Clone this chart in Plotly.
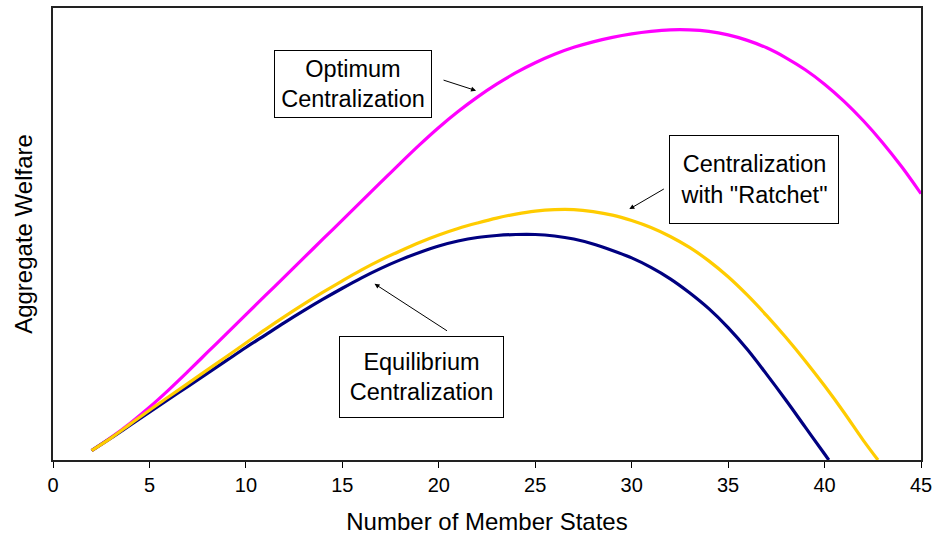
import plotly.graph_objects as go

# Aggregate welfare (arbitrary units) by number of member states
x_opt = list(range(2, 46))
w_opt = [9.5, 22.5, 37, 53, 70.5, 89, 108, 127, 146, 165, 184, 203, 222, 241, 260, 279, 298,
         316.5, 334, 350, 364.5, 377.5, 389, 399, 407.5, 414.5, 420, 424.5, 428, 430.5, 432, 432,
         430.5, 427, 421.5, 414, 404, 392, 377.5, 360.5, 341, 319, 294.5, 267.5]

x_rat = list(range(2, 43)) + [42.77]
w_rat = [9.5, 22, 36, 50, 63.5, 77, 90.5, 104, 117.5, 131, 144, 156.5, 168.5, 180, 191, 201, 210,
         218.5, 226, 232.5, 238, 243, 247, 250, 251.5, 251.5, 249.5, 246, 240.5, 233.5, 224.5,
         213.5, 200, 184, 165.5, 145, 123, 99.5, 74.5, 48, 20, 0]

x_eq = list(range(2, 41)) + [40.22]
w_eq = [9.5, 22, 35, 48, 61, 74, 87, 100, 113, 125.5, 138, 150, 161.5, 172.5, 183, 192.5, 201,
        208.5, 215, 220, 223.5, 225.5, 226.5, 226.5, 225, 222, 217, 210.5, 203, 193.5, 182, 168,
        152, 133, 111, 86, 60, 33, 6, 0]

x_ticks = [0, 5, 10, 15, 20, 25, 30, 35, 40, 45]

FONT = "Liberation Sans, Arial, sans-serif"

fig = go.Figure()
fig.add_trace(go.Scatter(x=x_opt, y=w_opt, mode="lines", name="Optimum Centralization",
                         line=dict(color="#FF00FF", width=3.2, shape="spline", smoothing=1)))
fig.add_trace(go.Scatter(x=x_eq, y=w_eq, mode="lines", name="Equilibrium Centralization",
                         line=dict(color="#000080", width=3.2, shape="spline", smoothing=1)))
fig.add_trace(go.Scatter(x=x_rat, y=w_rat, mode="lines", name='Centralization with "Ratchet"',
                         line=dict(color="#FFCC00", width=3.2, shape="spline", smoothing=1)))

W, H = 938, 539
L, R, T, B = 53, 13, 6, 79
pw, ph = W - L - R, H - T - B


def px(xp):
    return (xp - L) / pw


def py(yp):
    return (H - B - yp) / ph


boxes = [
    ("Optimum<br>Centralization", 354, 82, 156, 66),
    ("Centralization<br>with \"Ratchet\"", 757, 178, 168, 87),
    ("Equilibrium<br>Centralization", 423.5, 377, 163, 80),
]
annotations = []
for text, cx, cy, bw, bh in boxes:
    annotations.append(dict(
        text=text, xref="paper", yref="paper", x=px(cx), y=py(cy),
        xanchor="center", yanchor="middle", showarrow=False,
        width=bw, height=bh, borderpad=0, bordercolor="#000000", borderwidth=1,
        bgcolor="#FFFFFF", font=dict(family=FONT, size=23.5, color="#000000"),
    ))

arrows = [
    ((444, 78), (478, 89)),
    ((668, 187), (632, 208)),
    ((450, 331), (376, 283)),
]
for (tx, ty), (hx, hy) in arrows:
    annotations.append(dict(
        text="", xref="paper", yref="paper", x=px(hx), y=py(hy),
        ax=tx - hx, ay=ty - hy, showarrow=True,
        arrowhead=2, arrowsize=1, arrowwidth=1, arrowcolor="#000000",
    ))

fig.update_layout(
    width=W, height=H,
    margin=dict(l=L, r=R, t=T, b=B),
    paper_bgcolor="white", plot_bgcolor="white",
    showlegend=False,
    font=dict(family=FONT, color="#000000"),
    annotations=annotations,
    xaxis=dict(
        range=[0, 45], tickvals=x_ticks, ticktext=[str(v) for v in x_ticks],
        ticks="outside", ticklen=6, tickwidth=1, tickcolor="#000000",
        showline=True, linecolor="#222222", linewidth=2, mirror=True,
        showgrid=False, zeroline=False,
        tickfont=dict(family=FONT, size=20, color="#000000"),
        title=dict(text="Number of Member States", font=dict(family=FONT, size=24, color="#000000"),
                   standoff=18),
    ),
    yaxis=dict(
        range=[0, 454], showticklabels=False, ticks="",
        showline=True, linecolor="#222222", linewidth=2, mirror=True,
        showgrid=False, zeroline=False,
        title=dict(text="Aggregate Welfare", font=dict(family=FONT, size=24, color="#000000"),
                   standoff=12),
    ),
)

fig.write_html("out.html", config={"displayModeBar": False},
               post_script="document.body.style.margin='0';")
